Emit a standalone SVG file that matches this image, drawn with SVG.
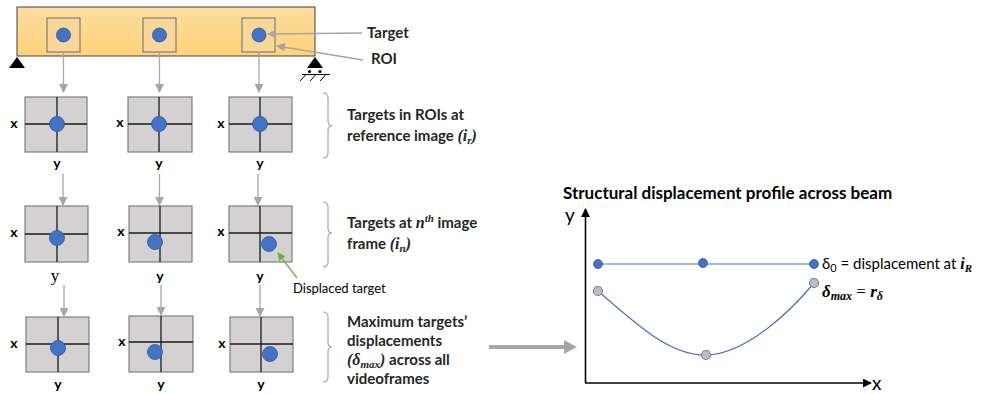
<svg xmlns="http://www.w3.org/2000/svg" width="983" height="394" viewBox="0 0 983 394">
  <defs>
    <linearGradient id="beamFill" x1="0" y1="0" x2="0" y2="1">
      <stop offset="0" stop-color="#FBDD9E"/>
      <stop offset="1" stop-color="#FFD27A"/>
    </linearGradient>
    <marker id="grayHead" viewBox="0 0 10 10" refX="9" refY="5" markerWidth="9" markerHeight="9" markerUnits="userSpaceOnUse" orient="auto">
      <path d="M0,0 L10,5 L0,10 Z" fill="#A6A6A6"/>
    </marker>
    <marker id="greenHead" viewBox="0 0 10 10" refX="9" refY="5" markerWidth="8" markerHeight="8" markerUnits="userSpaceOnUse" orient="auto">
      <path d="M0,0 L10,5 L0,10 Z" fill="#70AD47"/>
    </marker>
    <marker id="blackHead" viewBox="0 0 10 10" refX="9" refY="5" markerWidth="9" markerHeight="9" markerUnits="userSpaceOnUse" orient="auto">
      <path d="M0,0 L10,5 L0,10 Z" fill="#000"/>
    </marker>
  </defs>
  <style>
    .frame { fill: #D3D1D1; stroke: #7F7F7F; stroke-width: 1.2; }
    .roi { fill: #F8D898; stroke: #7F7F7F; stroke-width: 1.2; }
    .cross { stroke: #1a1a1a; stroke-width: 1.3; }
    .dot { fill: #4472C4; stroke: #2F5597; stroke-width: 0.8; }
    .gdot { fill: #BFBFBF; stroke: #6F7F95; stroke-width: 1.2; }
    .conn { stroke: #A6A6A6; stroke-width: 1.3; fill: none; }
    .brace { stroke: #A6A6A6; stroke-width: 1.2; fill: none; }
    .ax { font-family: Lato, "Liberation Sans", sans-serif; font-weight: bold; font-size: 14px; fill: #000; }
    .lbl { font-family: Lato, "Liberation Sans", sans-serif; font-weight: bold; font-size: 15px; fill: #262626; }
    .reg { font-family: Lato, "Liberation Sans", sans-serif; font-size: 15px; fill: #000; }
    .math { font-family: "Liberation Serif", serif; font-style: italic; font-weight: bold; }
  </style>

  <!-- beam with supports -->
  <g id="beam">
    <rect x="17" y="7" width="298" height="49" fill="url(#beamFill)" stroke="#404040" stroke-width="1"/>
    <rect class="roi" x="47" y="18" width="33" height="34"/>
    <rect class="roi" x="143" y="18" width="33" height="34"/>
    <rect class="roi" x="242" y="18" width="33" height="34"/>
    <circle class="dot" cx="63.5" cy="35" r="7"/>
    <circle class="dot" cx="159.5" cy="35" r="7"/>
    <circle class="dot" cx="259" cy="35" r="7"/>
  </g>
  <g id="support-left">
    <path d="M17,57 L25,68 L9,68 Z" fill="#000"/>
  </g>
  <g id="support-right">
    <path d="M315,57 L323,68 L307,68 Z" fill="#000"/>
    <circle cx="309.5" cy="71.5" r="1.6" fill="#000"/>
    <circle cx="320" cy="71.5" r="1.6" fill="#000"/>
    <path d="M302,74.5 L330,74.5 M306,74.5 L300,81 M316,74.5 L310,81 M326,74.5 L320,81" stroke="#000" stroke-width="1" fill="none"/>
  </g>

  <!-- reference image frames -->
  <g id="ref-1">
    <rect class="frame" x="25" y="97" width="62" height="55"/>
    <line class="cross" x1="25" y1="124" x2="87" y2="124"/>
    <line class="cross" x1="57" y1="97" x2="57" y2="152"/>
    <circle class="dot" cx="57" cy="124" r="7.5"/>
    <text class="ax" x="14" y="128" text-anchor="middle">x</text>
    <text class="ax" x="57" y="168" text-anchor="middle">y</text>
  </g>
  <g id="ref-2">
    <rect class="frame" x="128" y="97" width="64" height="55"/>
    <line class="cross" x1="128" y1="124" x2="192" y2="124"/>
    <line class="cross" x1="159" y1="97" x2="159" y2="152"/>
    <circle class="dot" cx="159" cy="124" r="7.5"/>
    <text class="ax" x="120" y="127" text-anchor="middle">x</text>
    <text class="ax" x="159" y="168" text-anchor="middle">y</text>
  </g>
  <g id="ref-3">
    <rect class="frame" x="229" y="97" width="63" height="55"/>
    <line class="cross" x1="229" y1="124" x2="292" y2="124"/>
    <line class="cross" x1="260" y1="97" x2="260" y2="152"/>
    <circle class="dot" cx="260" cy="124" r="7.5"/>
    <text class="ax" x="221" y="128" text-anchor="middle">x</text>
    <text class="ax" x="260" y="168" text-anchor="middle">y</text>
  </g>

  <!-- nth image frames -->
  <g id="nth-1">
    <rect class="frame" x="25" y="206" width="63" height="56"/>
    <line class="cross" x1="25" y1="234" x2="88" y2="234"/>
    <line class="cross" x1="57" y1="206" x2="57" y2="262"/>
    <circle class="dot" cx="57" cy="238" r="7.5"/>
    <text class="ax" x="14" y="237" text-anchor="middle">x</text>
    <text x="55" y="281" text-anchor="middle" font-family="'Liberation Serif', serif" font-size="17" fill="#000">y</text>
  </g>
  <g id="nth-2">
    <rect class="frame" x="129" y="206" width="63" height="56"/>
    <line class="cross" x1="129" y1="233" x2="192" y2="233"/>
    <line class="cross" x1="160" y1="206" x2="160" y2="262"/>
    <circle class="dot" cx="155" cy="242" r="7.5"/>
    <text class="ax" x="121" y="236" text-anchor="middle">x</text>
    <text class="ax" x="160" y="281" text-anchor="middle">y</text>
  </g>
  <g id="nth-3">
    <rect class="frame" x="229" y="206" width="63" height="56"/>
    <line class="cross" x1="229" y1="233" x2="292" y2="233"/>
    <line class="cross" x1="260" y1="206" x2="260" y2="262"/>
    <circle class="dot" cx="269" cy="244" r="7.5"/>
    <text class="ax" x="221" y="236" text-anchor="middle">x</text>
    <text class="ax" x="260" y="281" text-anchor="middle">y</text>
  </g>

  <!-- maximum displacement frames -->
  <g id="max-1">
    <rect class="frame" x="26" y="317" width="63" height="55"/>
    <line class="cross" x1="26" y1="344" x2="89" y2="344"/>
    <line class="cross" x1="58" y1="317" x2="58" y2="372"/>
    <circle class="dot" cx="58" cy="348" r="7.5"/>
    <text class="ax" x="14" y="348" text-anchor="middle">x</text>
    <text class="ax" x="58" y="389" text-anchor="middle">y</text>
  </g>
  <g id="max-2">
    <rect class="frame" x="129" y="316" width="64" height="56"/>
    <line class="cross" x1="129" y1="342" x2="193" y2="342"/>
    <line class="cross" x1="161" y1="316" x2="161" y2="372"/>
    <circle class="dot" cx="155" cy="352" r="7.5"/>
    <text class="ax" x="122" y="346" text-anchor="middle">x</text>
    <text class="ax" x="161" y="389" text-anchor="middle">y</text>
  </g>
  <g id="max-3">
    <rect class="frame" x="230" y="317" width="63" height="55"/>
    <line class="cross" x1="230" y1="344" x2="293" y2="344"/>
    <line class="cross" x1="261" y1="317" x2="261" y2="372"/>
    <circle class="dot" cx="270" cy="354" r="7.5"/>
    <text class="ax" x="222" y="348" text-anchor="middle">x</text>
    <text class="ax" x="261" y="389" text-anchor="middle">y</text>
  </g>

  <!-- callout labels -->
  <g id="label-target">
    <text class="lbl" x="367" y="38">Target</text>
  </g>
  <g id="label-roi">
    <text class="lbl" x="371" y="64">ROI</text>
  </g>
  <g id="label-reference">
    <path class="brace" d="M323,93 Q328,93 328,98 L328,121 Q328,126 332,126 Q328,126 328,131 L328,153 Q328,158 323,158"/>
    <text class="lbl" x="347" y="120">Targets in ROIs at</text>
    <text class="lbl" x="347" y="141">reference image <tspan class="math" font-size="16">(i<tspan font-size="11" dy="3">r</tspan><tspan dy="-3">)</tspan></tspan></text>
  </g>
  <g id="label-nth">
    <path class="brace" d="M323,202 Q328,202 328,207 L328,228 Q328,233 332,233 Q328,233 328,238 L328,262 Q328,267 323,267"/>
    <text class="lbl" x="347" y="228">Targets at <tspan class="math" font-size="16">n</tspan><tspan class="math" font-size="11" dy="-6">th</tspan><tspan dy="6"> image</tspan></text>
    <text class="lbl" x="347" y="249">frame <tspan class="math" font-size="16">(i<tspan font-size="11" dy="3">n</tspan><tspan dy="-3">)</tspan></tspan></text>
  </g>
  <g id="label-displaced">
    <text x="293" y="293" font-family="Lato, 'Liberation Sans', sans-serif" font-size="13" fill="#000">Displaced target</text>
  </g>
  <g id="label-max">
    <path class="brace" d="M323,312 Q328,312 328,317 L328,342 Q328,347 332,347 Q328,347 328,352 L328,377 Q328,382 323,382"/>
    <text class="lbl" x="347" y="327">Maximum targets’</text>
    <text class="lbl" x="347" y="346">displacements</text>
    <text class="lbl" x="347" y="365"><tspan class="math" font-size="16">(δ<tspan font-size="11" dy="3">max</tspan><tspan dy="-3">)</tspan></tspan> across all</text>
    <text class="lbl" x="347" y="384">videoframes</text>
  </g>

  <!-- displacement profile chart -->
  <g id="profile-chart">
    <text x="563" y="199" font-family="Lato, 'Liberation Sans', sans-serif" font-weight="bold" font-size="17" fill="#000">Structural displacement profile across beam</text>
    <text x="565" y="222" font-family="Lato, 'Liberation Sans', sans-serif" font-size="19" fill="#000">y</text>
    <text x="872" y="390" font-family="Lato, 'Liberation Sans', sans-serif" font-size="19" fill="#000">x</text>
    <line x1="585.5" y1="383" x2="585.5" y2="209" stroke="#000" stroke-width="1.6" marker-end="url(#blackHead)"/>
    <line x1="585" y1="383" x2="871" y2="383" stroke="#000" stroke-width="1.6" marker-end="url(#blackHead)"/>
    <line x1="598" y1="264" x2="814" y2="264" stroke="#4472C4" stroke-width="1.2"/>
    <path d="M598,291 C635,323 670,356 706,355 C746,354 790,312 814,283" fill="none" stroke="#4472C4" stroke-width="1.2"/>
    <circle class="dot" cx="598" cy="264" r="4.5"/>
    <circle class="dot" cx="703" cy="263" r="4.5"/>
    <circle class="dot" cx="814" cy="264" r="4.5"/>
    <circle class="gdot" cx="598" cy="291" r="4.5"/>
    <circle class="gdot" cx="706" cy="355" r="4.5"/>
    <circle class="gdot" cx="814" cy="283" r="4.5"/>
    <text class="reg" x="822" y="269">δ<tspan font-size="11" dy="3">0</tspan><tspan dy="-3"> = displacement at </tspan><tspan class="math" font-size="16">i<tspan font-size="11" dy="3">R</tspan></tspan></text>
    <text class="math" x="822" y="297" font-size="17">δ<tspan font-size="12" dy="3">max</tspan><tspan dy="-3" font-style="normal" font-weight="normal"> = </tspan>r<tspan font-size="12" dy="3">δ</tspan></text>
  </g>

  <!-- connectors -->
  <g id="connectors">
    <line class="conn" x1="63.5" y1="52" x2="63.5" y2="92" marker-end="url(#grayHead)"/>
    <line class="conn" x1="159.5" y1="52" x2="159.5" y2="92" marker-end="url(#grayHead)"/>
    <line class="conn" x1="259" y1="52" x2="259" y2="92" marker-end="url(#grayHead)"/>
    <line class="conn" x1="63" y1="174" x2="63" y2="205" marker-end="url(#grayHead)"/>
    <line class="conn" x1="159.5" y1="174" x2="159.5" y2="205" marker-end="url(#grayHead)"/>
    <line class="conn" x1="258" y1="174" x2="258" y2="205" marker-end="url(#grayHead)"/>
    <line class="conn" x1="64" y1="285" x2="64" y2="316" marker-end="url(#grayHead)"/>
    <line class="conn" x1="161" y1="285" x2="161" y2="315" marker-end="url(#grayHead)"/>
    <line class="conn" x1="260" y1="285" x2="260" y2="316" marker-end="url(#grayHead)"/>
    <line class="conn" x1="362" y1="33" x2="268" y2="34" marker-end="url(#grayHead)"/>
    <line class="conn" x1="363" y1="60" x2="277" y2="46" marker-end="url(#grayHead)"/>
    <line x1="297" y1="278" x2="278" y2="253" stroke="#70AD47" stroke-width="1.3" marker-end="url(#greenHead)"/>
    <line x1="489" y1="347" x2="566" y2="347" stroke="#A6A6A6" stroke-width="4"/>
    <path d="M564,340 L577,347 L564,354 Z" fill="#A6A6A6"/>
  </g>
</svg>
